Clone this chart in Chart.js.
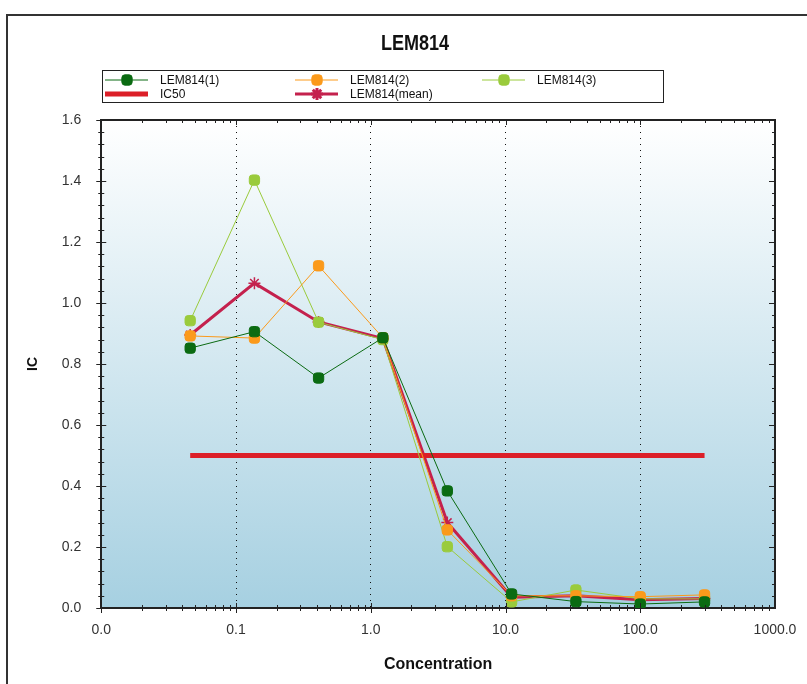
<!DOCTYPE html>
<html>
<head>
  <meta charset="UTF-8">
  <title>LEM814</title>
  <script src="https://cdn.jsdelivr.net/npm/chart.js"></script>
  <style>
    body { margin: 0; background: #fff; }
    #marco { position: absolute; left: 6px; top: 14px; width: 820px; height: 700px;
             border-top: 2px solid #333; border-left: 2px solid #333; }
    #grafico { position: absolute; left: 0; top: 0; }
    #titulo { position: absolute; left: 0; width: 830px; top: 30px; text-align: center;
              font: bold 22px 'Liberation Sans', Arial, sans-serif; color: #111;
              transform: scaleX(0.82); transform-origin: 415px 0; z-index: 2; }
  </style>
</head>
<body>
  <div id="marco"></div>
  <canvas id="grafico" width="807" height="684"></canvas>
  <div id="titulo">LEM814</div>

  <script>
    // datos
    const concentraciones = [0.0457, 0.137, 0.41, 1.23, 3.7, 11.1, 33.3, 100, 300];
    const lem1 = [0.852, 0.906, 0.754, 0.886, 0.384, 0.046, 0.021, 0.013, 0.020];
    const lem2 = [0.892, 0.885, 1.122, 0.886, 0.256, 0.040, 0.040, 0.037, 0.043];
    const lem3 = [0.942, 1.403, 0.937, 0.880, 0.201, 0.020, 0.059, 0.030, 0.030];
    const lemMedia = [0.895, 1.065, 0.938, 0.884, 0.280, 0.035, 0.040, 0.027, 0.031];
    const ic50X = [0.0457, 300];
    const ic50Y = [0.5, 0.5];
    const ticksX = [0.01, 0.1, 1, 10, 100, 1000];
    const etiquetasX = ['0.0', '0.1', '1.0', '10.0', '100.0', '1000.0'];

    const fuente = "'Liberation Sans', Arial, sans-serif";
    const puntos = ys => ys.map((y, i) => ({ x: concentraciones[i], y: y }));

    // fondo degradado del area de trazado
    const fondo = {
      id: 'fondo',
      beforeDraw(chart) {
        const { ctx, chartArea: a } = chart;
        const g = ctx.createLinearGradient(0, a.top, 0, a.bottom);
        g.addColorStop(0, '#ffffff');
        g.addColorStop(1, '#a6d0e1');
        ctx.save();
        ctx.fillStyle = g;
        ctx.fillRect(a.left, a.top, a.right - a.left, a.bottom - a.top);
        ctx.restore();
      }
    };

    // marcas de los ejes y bordes superior/derecho
    const marcas = {
      id: 'marcas',
      afterDatasetsDraw(chart) {
        const { ctx, chartArea: a, scales } = chart;
        ctx.save();
        ctx.strokeStyle = '#222';
        ctx.lineWidth = 1;
        ctx.beginPath();
        for (let i = 0; i <= 40; i++) {
          const py = Math.round(scales.y.getPixelForValue(i * 0.04)) + 0.5;
          const mayor = i % 5 === 0;
          ctx.moveTo(a.left - (mayor ? 5 : 3), py);
          ctx.lineTo(a.left + (mayor ? 5 : 3), py);
          ctx.moveTo(a.right - (mayor ? 6 : 3), py);
          ctx.lineTo(a.right, py);
        }
        for (let e = -2; e <= 2; e++) {
          for (let m = 1; m <= 9; m++) {
            const v = m * Math.pow(10, e);
            const px = Math.round(scales.x.getPixelForValue(v)) + 0.5;
            const mayor = m === 1;
            ctx.moveTo(px, a.bottom - (mayor ? 5 : 3));
            ctx.lineTo(px, a.bottom + (mayor ? 5 : 3));
            ctx.moveTo(px, a.top);
            ctx.lineTo(px, a.top + (mayor ? 5 : 3));
          }
        }
        ctx.stroke();
        ctx.lineWidth = 2;
        ctx.beginPath();
        ctx.moveTo(a.left, a.top);
        ctx.lineTo(a.right, a.top);
        ctx.lineTo(a.right, a.bottom);
        ctx.stroke();
        ctx.restore();
      }
    };

    // leyenda con recuadro en 3 columnas
    const leyenda = {
      id: 'leyenda',
      afterDraw(chart) {
        const { ctx } = chart;
        const cols = [105, 295, 482];
        const filas = [80, 94];
        ctx.save();
        ctx.fillStyle = '#fff';
        ctx.strokeStyle = '#222';
        ctx.lineWidth = 1;
        ctx.fillRect(102.5, 70.5, 561, 32);
        ctx.strokeRect(102.5, 70.5, 561, 32);
        ctx.font = '12px ' + fuente;
        ctx.textBaseline = 'middle';
        chart.data.datasets.forEach(ds => {
          const x = cols[ds.columnaLeyenda];
          const y = filas[ds.filaLeyenda];
          ctx.strokeStyle = ds.borderColor;
          ctx.lineWidth = ds.borderWidth;
          ctx.beginPath();
          ctx.moveTo(x, y);
          ctx.lineTo(x + 43, y);
          ctx.stroke();
          if (ds.pointRadius > 0) {
            ctx.fillStyle = ds.pointBackgroundColor;
            ctx.strokeStyle = ds.pointBorderColor;
            Chart.helpers.drawPoint(ctx, {
              pointStyle: ds.pointStyle, radius: ds.pointRadius, borderWidth: ds.pointBorderWidth || 1, rotation: 0
            }, x + 22, y);
          }
          ctx.fillStyle = '#111';
          ctx.fillText(ds.label, x + 55, y + 1);
        });
        ctx.restore();
      }
    };

    const ctx = document.getElementById('grafico').getContext('2d');
    new Chart(ctx, {
      type: 'line',
      data: {
        datasets: [
          { label: 'LEM814(1)', data: puntos(lem1), borderColor: '#0b6b12', backgroundColor: '#0b6b12',
            pointBackgroundColor: '#0b6b12', pointBorderColor: '#0b6b12', borderWidth: 1,
            pointStyle: 'rectRounded', pointRadius: 6, columnaLeyenda: 0, filaLeyenda: 0 },
          { label: 'LEM814(2)', data: puntos(lem2), borderColor: '#fb9a1b', backgroundColor: '#fb9a1b',
            pointBackgroundColor: '#fb9a1b', pointBorderColor: '#fb9a1b', borderWidth: 1,
            pointStyle: 'rectRounded', pointRadius: 6, columnaLeyenda: 1, filaLeyenda: 0 },
          { label: 'LEM814(3)', data: puntos(lem3), borderColor: '#9acb3c', backgroundColor: '#9acb3c',
            pointBackgroundColor: '#9acb3c', pointBorderColor: '#9acb3c', borderWidth: 1,
            pointStyle: 'rectRounded', pointRadius: 6, columnaLeyenda: 2, filaLeyenda: 0 },
          { label: 'IC50', data: ic50X.map((x, i) => ({ x: x, y: ic50Y[i] })), borderColor: '#dc1f28',
            backgroundColor: '#dc1f28', borderWidth: 5, pointRadius: 0, columnaLeyenda: 0, filaLeyenda: 1 },
          { label: 'LEM814(mean)', data: puntos(lemMedia), borderColor: '#c4214d', backgroundColor: '#c4214d',
            pointBackgroundColor: '#c4214d', pointBorderColor: '#c4214d', borderWidth: 3,
            pointStyle: 'star', pointRadius: 6, pointBorderWidth: 1.5, columnaLeyenda: 1, filaLeyenda: 1 }
        ]
      },
      options: {
        responsive: false,
        animation: false,
        layout: { padding: { left: 21, right: 32, bottom: 6, top: 120 } },
        plugins: {
          legend: { display: false },
          tooltip: { enabled: false },
          title: { display: false }
        },
        scales: {
          x: {
            type: 'logarithmic', min: 0.01, max: 1000,
            afterBuildTicks: s => { s.ticks = ticksX.map(v => ({ value: v })); },
            afterFit: s => { s.paddingRight = 0; },
            ticks: {
              autoSkip: false, maxRotation: 0, padding: 14, color: '#333',
              font: { family: fuente, size: 14 },
              callback: v => etiquetasX[ticksX.indexOf(v)]
            },
            grid: {
              drawTicks: false, lineWidth: 1,
              color: c => (c.tick && c.tick.value > 0.01 && c.tick.value < 1000) ? '#111' : 'rgba(0,0,0,0)'
            },
            border: { color: '#222', width: 2, dash: [1, 5] },
            title: { display: true, text: 'Concentration', color: '#111',
                     font: { family: fuente, size: 16, weight: 'bold' }, padding: { top: 2 } }
          },
          y: {
            min: 0, max: 1.6,
            ticks: { stepSize: 0.2, padding: 12, color: '#333', font: { family: fuente, size: 14 },
                     callback: v => v.toFixed(1) },
            grid: { display: false },
            border: { color: '#222', width: 2 },
            title: { display: true, text: 'IC', color: '#111',
                     font: { family: fuente, size: 14, weight: 'bold' }, padding: { bottom: 8 } }
          }
        }
      },
      plugins: [fondo, marcas, leyenda]
    });
  </script>
</body>
</html>
